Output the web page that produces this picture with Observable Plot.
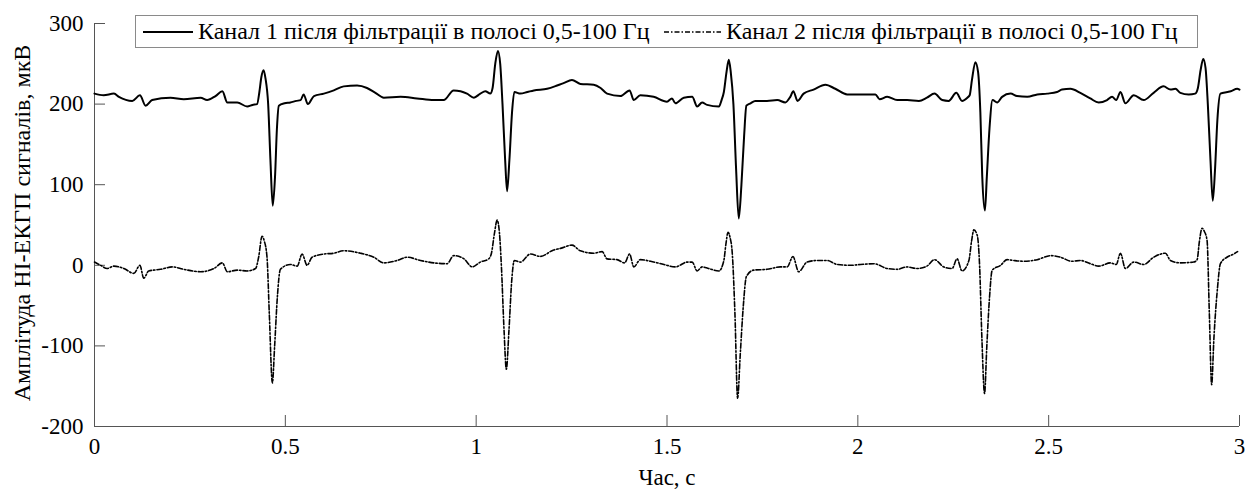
<!DOCTYPE html>
<html>
<head>
<meta charset="utf-8">
<script src="https://cdn.jsdelivr.net/npm/d3@7"></script>
<script src="https://cdn.jsdelivr.net/npm/@observablehq/plot@0.6"></script>
<style>
  html, body { margin: 0; padding: 0; background: #fff; }
  #wrap { position: relative; width: 1248px; height: 489px; font-family: "Liberation Serif", "Times New Roman", serif; }
  #legend { position: absolute; left: 135px; top: 15px; width: 1061px; height: 31px; border: 1px solid #8a8a8a; background: #fff; box-sizing: content-box; }
  #legend .item { position: absolute; top: 0; height: 31px; display: flex; align-items: center; font-size: 24px; color: #000; white-space: nowrap; }
  #legend svg { display: block; }
</style>
</head>
<body>
<div id="wrap"><div id="legend"></div></div>
<script>
// ---- Data ----
const seriesNames = [
  "Канал 1 після фільтрації в полосі 0,5-100 Гц",
  "Канал 2 після фільтрації в полосі 0,5-100 Гц"
];
const xLabel = "Час, с";
const yLabel = "Амплітуда НІ-ЕКГП сигналів, мкВ";
const xTicks = [0, 0.5, 1, 1.5, 2, 2.5, 3];
const yTicks = [-200, -100, 0, 100, 200, 300];

// Channel 1 (time, s)
const t1 = [0.000,0.024,0.051,0.064,0.099,0.119,0.134,0.151,0.199,0.234,0.278,0.295,0.317,0.335,0.348,0.374,0.400,0.414,0.426,
  0.432,0.437,0.443,0.448,0.455,0.461,0.467,0.473,0.478,0.483,0.498,0.513,0.529,0.540,0.548,0.559,0.575,0.601,0.627,0.653,
  0.688,0.714,0.736,0.758,0.802,0.845,0.889,0.915,0.941,0.959,0.976,0.994,1.011,1.024,1.037,
  1.043,1.050,1.057,1.063,1.069,1.076,1.081,1.087,1.094,1.100,1.116,1.134,1.151,1.186,1.212,1.229,1.251,1.273,1.308,1.326,
  1.343,1.378,1.402,1.413,1.430,1.465,1.500,1.513,1.522,1.544,1.566,1.579,1.592,1.605,1.636,
  1.643,1.649,1.656,1.662,1.667,1.674,1.681,1.688,1.695,1.702,1.708,1.719,1.731,1.762,1.789,1.810,1.823,1.831,1.842,1.858,
  1.884,1.915,1.941,1.972,2.007,2.046,2.057,2.077,2.103,2.129,2.160,2.181,2.201,2.221,2.238,2.258,2.273,2.287,
  2.293,2.299,2.308,2.315,2.321,2.326,2.333,2.338,2.345,2.353,2.365,2.378,2.400,2.417,2.444,2.470,2.496,2.522,2.535,2.557,
  2.583,2.609,2.631,2.653,2.666,2.677,2.688,2.701,2.723,2.749,2.775,2.801,2.819,2.832,2.845,2.867,2.884,
  2.891,2.898,2.905,2.911,2.917,2.924,2.930,2.936,2.942,2.950,2.968,2.977,2.994,3.000];
// Channel 1 (amplitude, µV)
const v1 = [213,211,213,209,204,211,198,205,208,206,208,205,210,216,202,202,197,199,200,
  215,233,242,232,200,130,74,110,170,198,201,202,204,205,212,200,210,213,217,222,
  223,220,214,208,209,207,205,205,217,216,213,208,213,216,213,
  220,250,266,250,200,130,92,130,190,215,213,215,217,219,223,226,230,225,224,220,
  213,210,217,205,211,209,203,207,201,208,209,197,202,199,197,
  205,215,240,255,240,200,120,58,100,160,198,201,204,204,205,202,209,216,204,213,
  218,224,219,212,212,212,206,209,205,205,204,208,213,205,204,214,204,208,
  211,230,252,240,190,110,68,110,170,205,202,209,213,210,209,212,213,215,218,219,
  214,207,202,205,209,205,215,201,211,205,214,222,218,219,214,212,213,
  220,242,256,245,200,130,80,120,180,213,215,216,219,218];

// Channel 2 (time, s)
const t2 = [0.000,0.016,0.033,0.051,0.077,0.103,0.119,0.129,0.142,0.173,0.204,0.234,0.278,0.313,0.335,0.348,0.374,0.400,0.422,
  0.430,0.439,0.445,0.452,0.458,0.466,0.472,0.479,0.487,0.513,0.531,0.544,0.557,0.570,0.601,0.627,0.653,0.697,0.732,0.758,
  0.793,0.819,0.854,0.889,0.924,0.941,0.968,0.990,1.011,1.033,
  1.040,1.048,1.055,1.061,1.066,1.073,1.079,1.086,1.093,1.100,1.116,1.142,1.168,1.203,1.221,1.251,1.273,1.308,1.330,1.343,
  1.369,1.389,1.402,1.413,1.430,1.457,1.492,1.522,1.553,1.566,1.579,1.592,1.609,1.636,
  1.649,1.654,1.660,1.665,1.671,1.678,1.685,1.692,1.700,1.708,1.727,1.762,1.797,1.815,1.830,1.845,1.867,1.893,1.919,1.946,
  1.981,2.007,2.042,2.077,2.103,2.129,2.155,2.181,2.201,2.225,2.247,2.260,2.273,2.291,
  2.298,2.304,2.313,2.319,2.325,2.332,2.338,2.345,2.352,2.374,2.391,2.408,2.435,2.470,2.505,2.531,2.561,2.583,2.609,2.631,
  2.662,2.677,2.688,2.701,2.723,2.749,2.775,2.806,2.819,2.845,2.880,2.889,
  2.895,2.902,2.908,2.915,2.921,2.927,2.933,2.942,2.950,2.967,2.985,2.995];
// Channel 2 (amplitude, µV)
const v2 = [4,0,-4,-1,-4,-10,0,-16,-7,-5,-2,-5,-8,-4,3,-8,-6,-7,-4,
  10,36,30,10,-60,-146,-100,-40,-5,1,-1,14,0,10,14,15,18,15,10,3,
  6,10,6,3,2,12,8,-2,4,8,
  15,40,56,40,0,-80,-129,-80,-20,6,4,14,11,19,21,25,18,15,17,8,
  7,3,14,-2,7,5,1,-2,4,4,-7,-2,-4,-7,
  6,25,41,35,15,-60,-165,-110,-50,-14,-6,-5,-2,-2,11,-8,4,6,6,1,
  0,1,2,-4,-5,-2,-4,-1,7,-2,-4,8,-7,6,
  30,44,37,0,-90,-159,-100,-40,-6,0,7,6,5,7,12,10,5,6,2,-1,
  3,1,15,-4,4,1,10,15,6,3,4,7,
  30,46,42,31,-60,-148,-90,-30,2,10,14,17];

// ---- Build tables for Plot ----
const ch1 = t1.map((t, i) => ({t, v: v1[i]}));
const ch2 = t2.map((t, i) => ({t, v: v2[i]}));

const W = 1248, H = 489;
const mL = 94, mR = 9, mT = 23, mB = 63;
const frameW = W - mL - mR, frameH = H - mT - mB;
const tick = 11;
const axisColor = "#555";
const fontFamily = "'Liberation Serif', 'Times New Roman', serif";

const chart = Plot.plot({
  width: W,
  height: H,
  marginLeft: mL,
  marginRight: mR,
  marginTop: mT,
  marginBottom: mB,
  style: {fontFamily, fontSize: "23px", color: "#000", background: "#fff", overflow: "visible"},
  x: {domain: [0, 3], axis: null},
  y: {domain: [-200, 300], axis: null},
  marks: [
    // axis lines
    Plot.ruleX([0], {stroke: axisColor, strokeWidth: 1}),
    Plot.ruleY([-200], {stroke: axisColor, strokeWidth: 1}),
    // inward ticks
    Plot.tickY(yTicks, {y: d => d, stroke: axisColor, strokeWidth: 1, insetRight: frameW - tick}),
    Plot.tickX(xTicks, {x: d => d, stroke: axisColor, strokeWidth: 1, insetTop: frameH - tick}),
    // tick labels
    Plot.axisY(yTicks, {tickSize: 0, tickPadding: 11, tickFormat: d => String(d), label: null, fill: "#000", fontSize: 23}),
    Plot.axisX(xTicks, {tickSize: 0, tickPadding: 11, tickFormat: d => String(d), label: null, fill: "#000", fontSize: 23}),
    // axis titles
    Plot.text([xLabel], {text: d => d, frameAnchor: "bottom", dy: 51, lineAnchor: "middle", fill: "#000", fontSize: 23, textAnchor: "middle"}),
    Plot.text([yLabel], {text: d => d, frameAnchor: "left", dx: -72, dy: -2, rotate: -90, fill: "#000", fontSize: 24, textAnchor: "middle"}),
    // signals
    Plot.line(ch1, {x: "t", y: "v", stroke: "#000", strokeWidth: 2, curve: "monotone-x"}),
    Plot.line(ch2, {x: "t", y: "v", stroke: "#000", strokeWidth: 1.6, strokeDasharray: "5,2,1.5,2", curve: "monotone-x"})
  ]
});

const wrap = document.getElementById("wrap");
wrap.insertBefore(chart, wrap.firstChild);
chart.style.position = "absolute";
chart.style.left = "0";
chart.style.top = "0";

// ---- Legend (inside the axes, like the reference) ----
const legend = document.getElementById("legend");
const legendItems = [
  {name: seriesNames[0], left: 7, sample: 50, dash: null, width: 2},
  {name: seriesNames[1], left: 528, sample: 57, dash: "5,2,1.5,2", width: 1.6}
];
legendItems.forEach(it => {
  const div = document.createElement("div");
  div.className = "item";
  div.style.left = it.left + "px";
  const svg = d3.create("svg").attr("width", it.sample + 5).attr("height", 31);
  svg.append("line").attr("x1", 0).attr("x2", it.sample).attr("y1", 16).attr("y2", 16)
    .attr("stroke", "#000").attr("stroke-width", it.width).attr("stroke-dasharray", it.dash);
  div.appendChild(svg.node());
  const span = document.createElement("span");
  span.textContent = it.name;
  div.appendChild(span);
  legend.appendChild(div);
});
</script>
</body>
</html>
